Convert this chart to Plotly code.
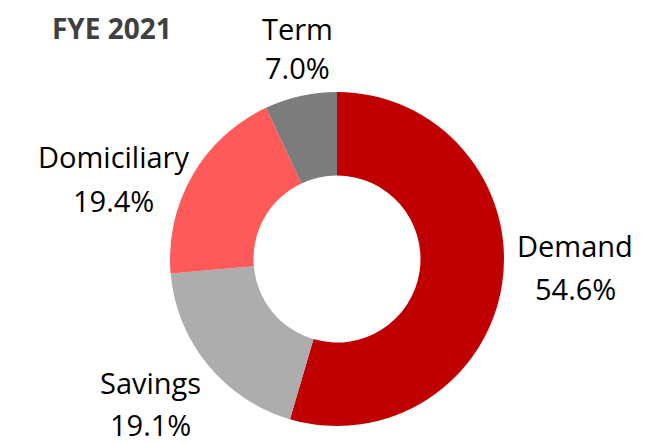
import plotly.graph_objects as go

categories = ["Demand", "Savings", "Domiciliary", "Term"]
values = [54.6, 19.1, 19.4, 7.0]
colors = ["#C00000", "#ADADAD", "#FF5A5A", "#7C7C7C"]
title_text = "FYE 2021"

W, H = 649, 443
cx, cy, r = 329, 251, 167

fig = go.Figure(go.Pie(
    labels=categories,
    values=values,
    sort=False,
    direction="clockwise",
    rotation=0,
    hole=0.5,
    marker=dict(colors=colors, line=dict(width=0)),
    textinfo="none",
    hoverinfo="label+percent",
    domain=dict(x=[(cx - r) / W, (cx + r) / W], y=[(H - cy - r) / H, (H - cy + r) / H]),
    showlegend=False,
))

HALF = 25  # approx half height of a text line box, px


def place(text, x, y, font):
    # keep the text box inside the page
    if y - HALF < 0:
        ya, yy = "top", 0
    elif y + HALF > H:
        ya, yy = "bottom", H - 6
    else:
        ya, yy = "middle", y
    fig.add_annotation(x=x / W, y=1 - yy / H, xref="paper", yref="paper",
                       text=text, showarrow=False, font=font, borderpad=0,
                       xanchor="center", yanchor=ya)


# (x center, y of name line, y of value line) in pixels from top-left
label_pos = {
    "Demand": (567, 237, 280),
    "Savings": (142, 374, 419),
    "Domiciliary": (106, 148, 192),
    "Term": (289, 12, 60),
}
font = dict(family="Open Sans, sans-serif", size=29, color="#000000")
for c, v in zip(categories, values):
    x, y1, y2 = label_pos[c]
    place(c, x, y1, font)
    place(f"{v:.1f}%", x, y2, font)

place(f"<b>{title_text}</b>", 104, 14,
      dict(family="Open Sans, sans-serif", size=28, color="#404040"))

fig.update_layout(width=W, height=H, margin=dict(l=0, r=0, t=0, b=0),
                  paper_bgcolor="white", plot_bgcolor="white")
fig.write_html("out.html")
